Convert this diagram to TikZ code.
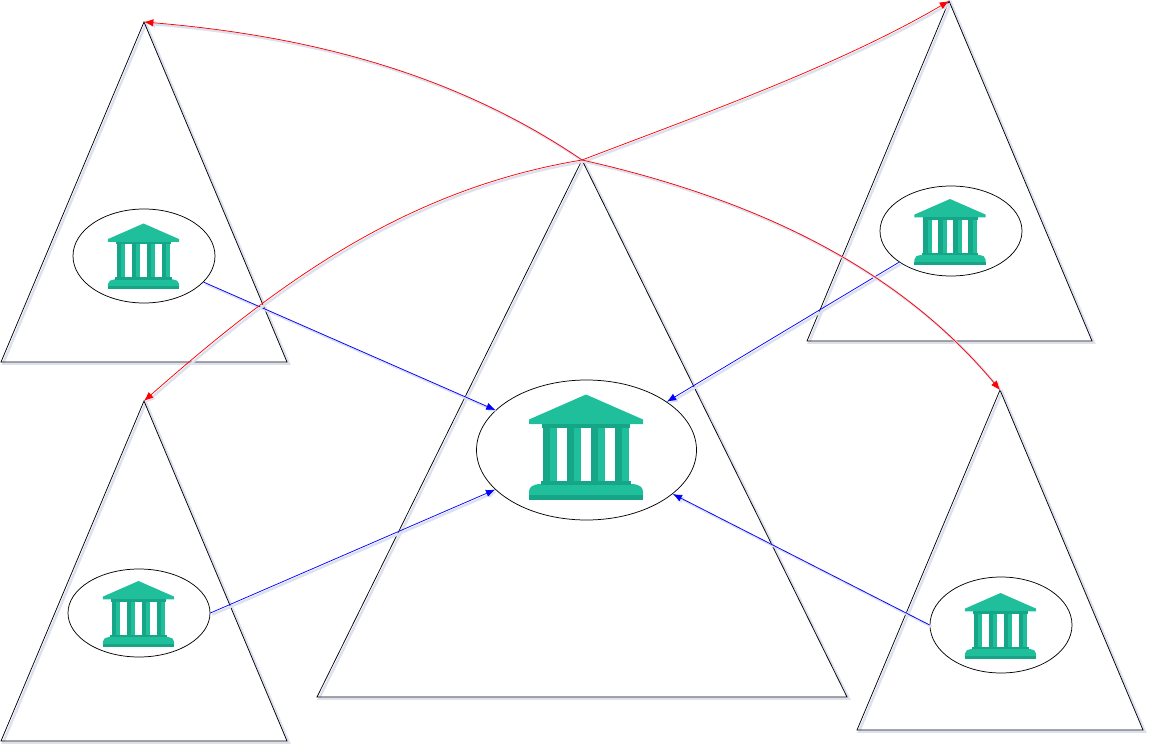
\documentclass[tikz,border=0pt]{standalone}
\usepackage{xcolor}
\usetikzlibrary{arrows.meta,shapes.geometric}
\definecolor{banklight}{HTML}{1FBF9C}
\definecolor{bankdark}{HTML}{17A587}
\definecolor{shadowgray}{HTML}{DDE0EF}
\tikzset{
  bank/.pic={
    \fill[banklight] (0,0) -- (57,25) -- (57,29.5) -- (-57,29.5) -- (-57,25) -- cycle;
    \foreach \colx in {-43,-19,5,29} {
      \fill[banklight] (\colx+6.5,32) rectangle ++(7.5,55);
      \fill[bankdark] (\colx,32) rectangle ++(7,55);
    }
    \fill[bankdark] (-44,29) rectangle (44,33);
    \fill[banklight] (-57,101) -- (-57,97) .. controls (-57,92) and (-52,90) .. (-47,89.5)
      -- (47,89.5) .. controls (52,90) and (57,92) .. (57,97) -- (57,101) -- cycle;
    \fill[bankdark] (-45,86) rectangle (45,90);
    \fill[bankdark] (-57,100) rectangle (57,105);
  }}
\begin{document}
\begin{tikzpicture}[x=0.75pt,y=-0.75pt,
  shadowed/.style={preaction={draw=shadowgray,line width=1.8pt,transform canvas={shift={(1.5pt,-1.3pt)}}}},
  tree/.style={draw=black,line width=0.55pt,line join=miter,shadowed},
  hole/.style={draw=black,ellipse,line width=0.55pt,inner sep=0pt},
  small/.style={hole,minimum width=106.5pt,minimum height=#1},
  push/.style={-{Latex[length=7pt,width=5.5pt]},blue,line width=0.55pt,shadowed},
  peer/.style={-{Latex[length=7pt,width=5.5pt]},red,line width=0.55pt,shadowed}]
\useasboundingbox (0,0) rectangle (1155,752);
% trees
\draw[tree] (144,22) coordinate (lefttop) -- (287,362) -- (1,362) -- cycle;
\draw[tree] (949,1) coordinate (righttop) -- (1092,341) -- (807,341) -- cycle;
\draw[tree] (144,401) coordinate (leftlow) -- (287,741) -- (1,741) -- cycle;
\draw[tree] (1000,390) coordinate (rightlow) -- (1143,730) -- (857,730) -- cycle;
\draw[tree] (582,160) coordinate (hubtop) -- (847,697) -- (317,697) -- cycle;
% states
\node[small=70.5pt] (lt) at (144,256) {};
\node[small=67.5pt] (rt) at (951,231) {};
\node[small=66pt] (lb) at (139,613) {};
\node[small=72pt] (rb) at (1001,625) {};
\node[hole,minimum width=165pt,minimum height=105pt] (hub) at (586.5,450) {};
\pic[scale=0.625] at (143.5,223.5) {bank};
\pic[scale=0.625] at (950,199) {bank};
\pic[scale=0.625] at (138.5,581) {bank};
\pic[scale=0.625] at (1000.5,593) {bank};
\pic at (586,394.5) {bank};
% links
\draw[push] (lt) -- (hub);
\draw[push] (rt) -- (hub);
\draw[push] (lb.east) -- (hub);
\draw[push] (rb.west) -- (hub);
\draw[peer] (hubtop) .. controls (450,70) and (300,35) .. (lefttop);
\draw[peer] (hubtop) .. controls (700,115) and (840,65) .. (righttop);
\draw[peer] (hubtop) .. controls (400,190) and (270,290) .. (leftlow);
\draw[peer] (hubtop) .. controls (760,200) and (900,270) .. (rightlow);
\end{tikzpicture}
\end{document}
